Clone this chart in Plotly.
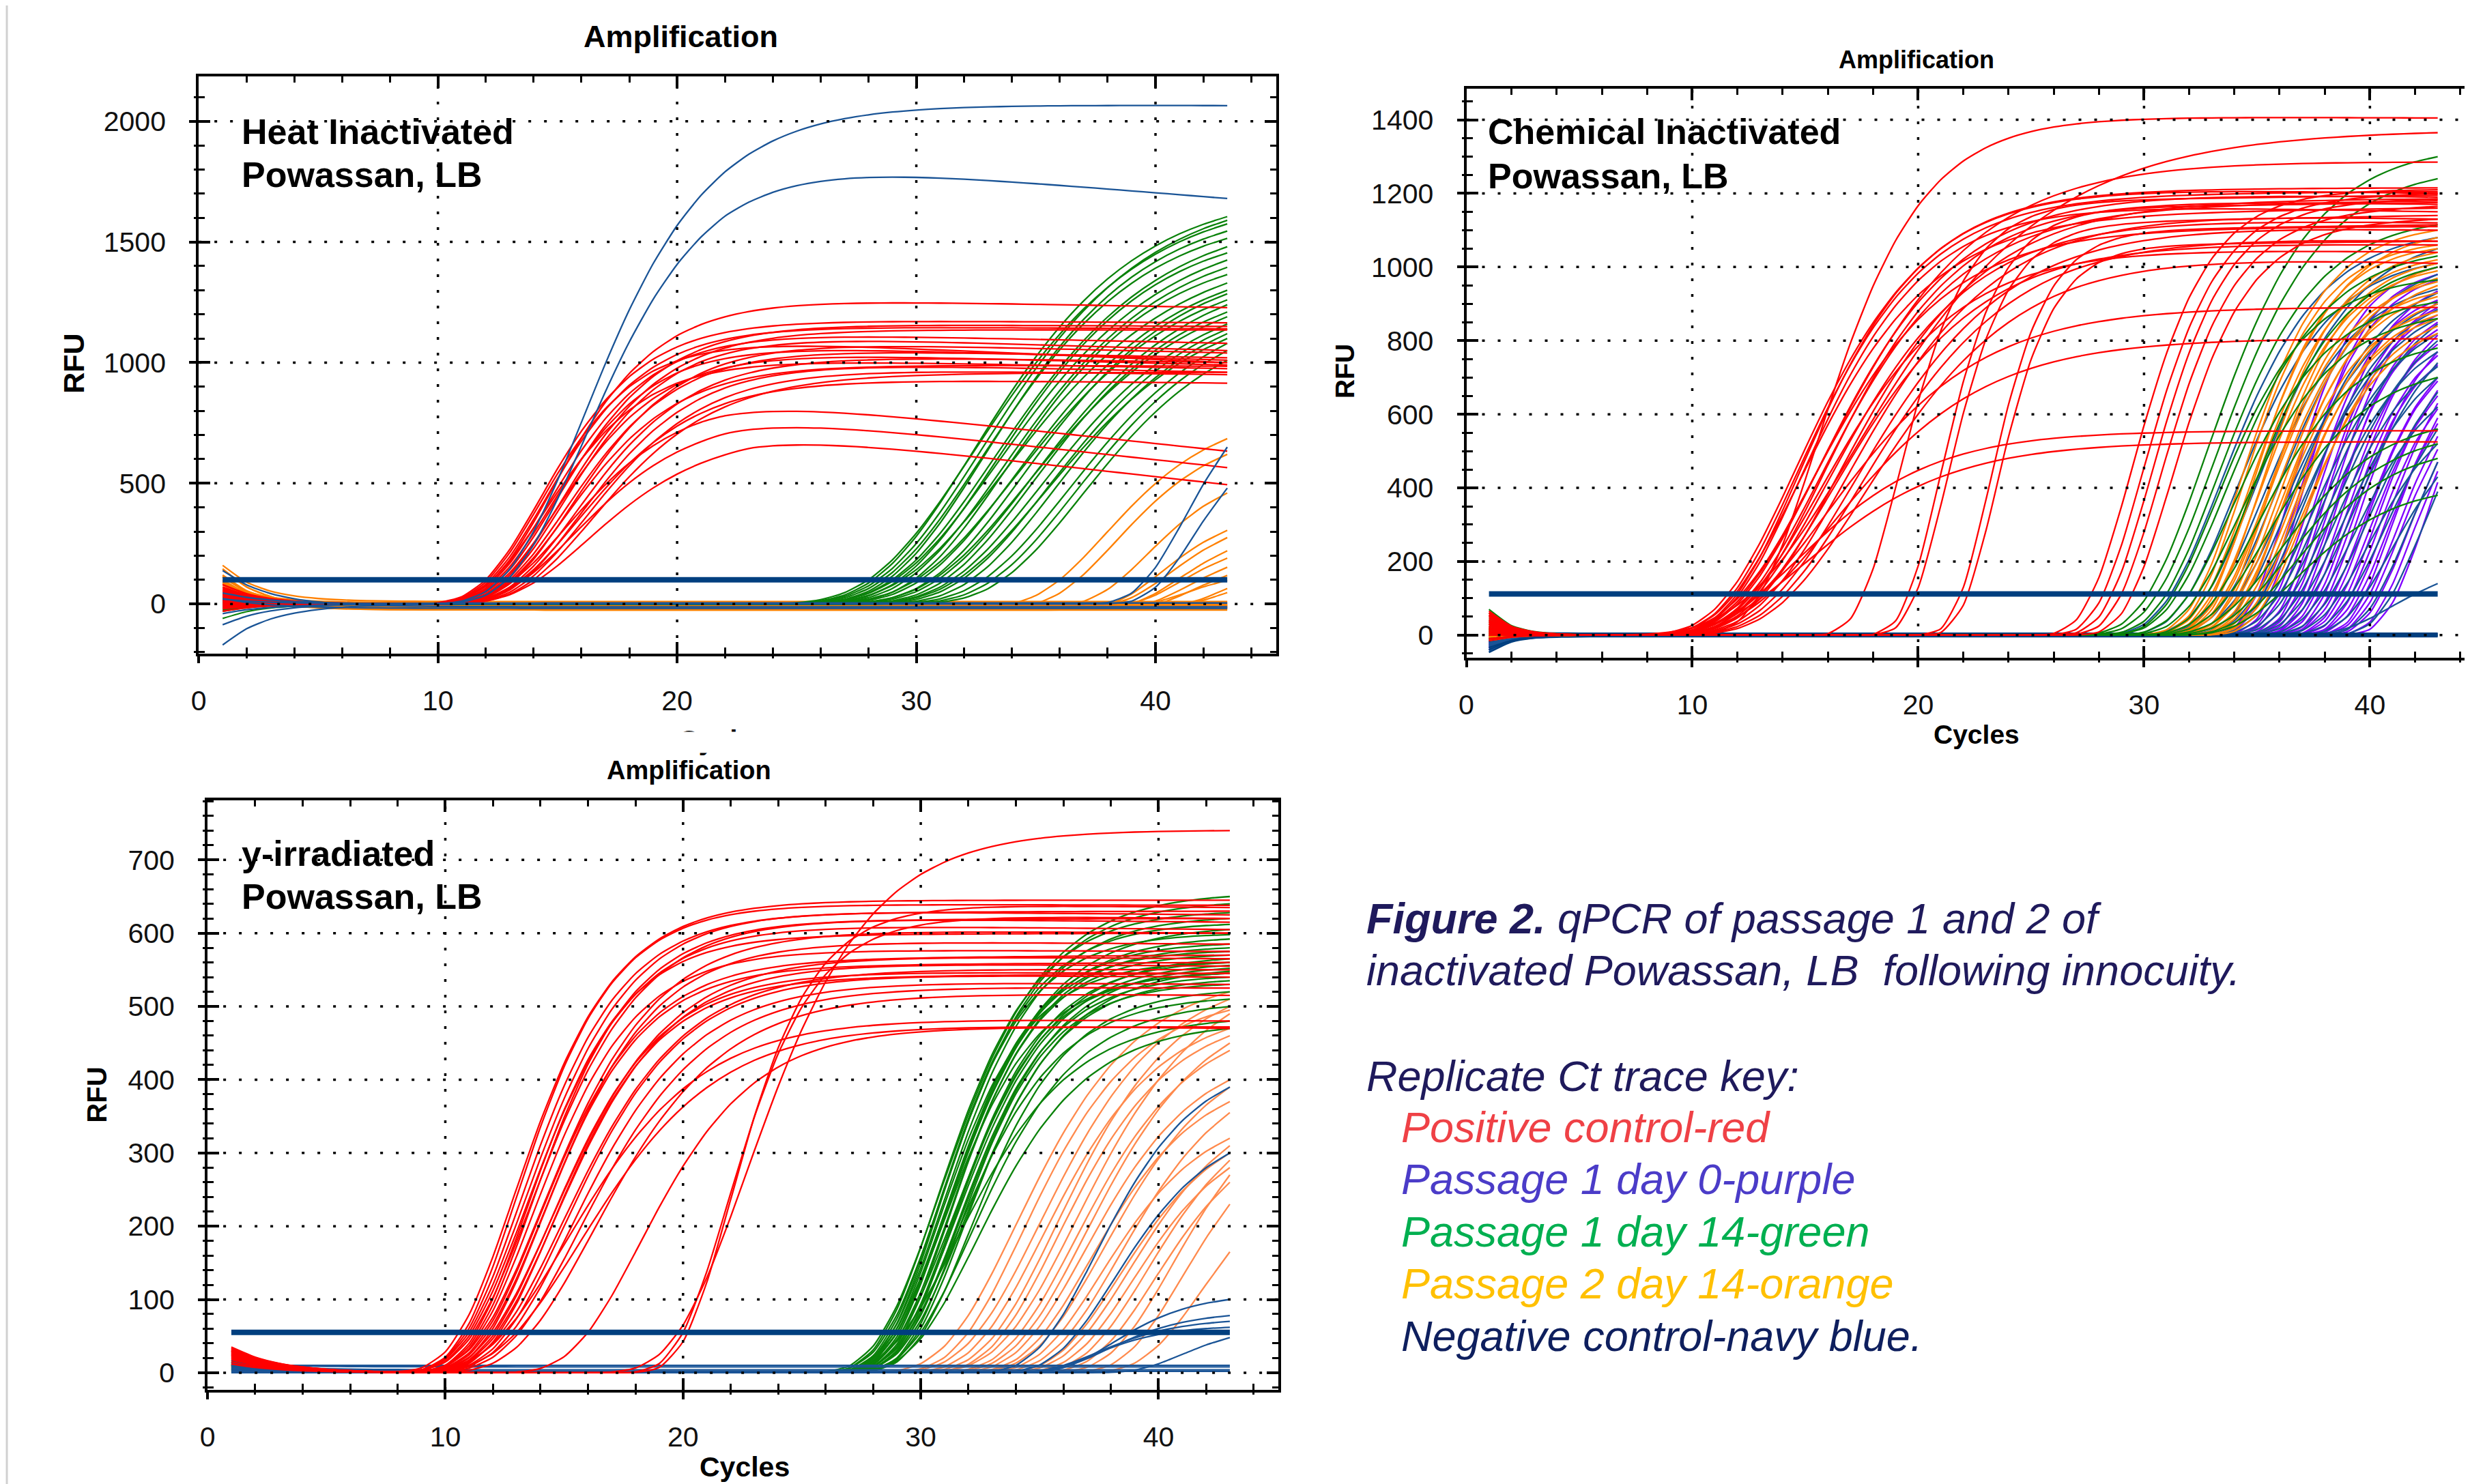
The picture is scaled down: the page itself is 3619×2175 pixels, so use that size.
import numpy as np
import plotly.graph_objects as go

W, H = 3619, 2175
CYCLES = list(range(1, 44))
THRESHOLDS = [100, 112, 55]

# ---------------- Panel 1 : Heat inactivated ----------------
p1_red_ct = [12.3, 12.0, 12.6, 12.2, 12.8, 12.4, 12.9, 12.1, 13.2, 12.5, 13.0, 12.7, 13.4, 12.3, 13.6, 13.1, 13.8, 14.0, 13.5, 13.2, 13.6, 14.2]
p1_red_peak = [1268, 1178, 1162, 1152, 1138, 1128, 1118, 1105, 1092, 1078, 1062, 1048, 1034, 1018, 1004, 993, 978, 955, 935, 860, 790, 715]
p1_red_end = [1228, 1165, 1150, 1140, 1135, 1080, 1050, 1000, 1040, 1010, 1020, 990, 1000, 975, 960, 985, 950, 960, 915, 633, 565, 494]
p1_red_k = [2.6, 2.5, 2.6, 2.5, 2.6, 2.5, 2.6, 2.4, 2.7, 2.5, 2.7, 2.6, 2.8, 2.5, 2.8, 2.7, 2.9, 3.0, 2.9, 2.8, 2.9, 3.0]
p1_red_start = [80, 60, 40, 20, 0, -20, 50, 30, 10, -10, 70, 45, 25, 5, -30, 55, 35, 15, -5, 65, 20, -15]

p1_blue_ct = [12.6, 12.9, 39.6, 40.3]
p1_blue_peak = [2072, 1850, None, None]
p1_blue_end = [2065, 1680, 650, 480]
p1_blue_k = [3.1, 3.0, 2.0, 1.8]
p1_blue_start = [-170, 45, -40, 20]
p1_blue_flat_offset = [-12, 4, -18]
p1_blue_flat_start = [150, -90, 40]

p1_green_ct = [28.2, 28.4, 28.0, 28.8, 28.6, 29.0, 29.3, 29.1, 29.6, 29.9, 29.4, 30.2, 30.6, 30.0, 30.9, 31.2, 30.7, 31.5, 31.9, 32.3, 31.7, 32.8, 33.2, 33.6]
p1_green_end = [1605, 1590, 1575, 1545, 1515, 1480, 1455, 1425, 1395, 1365, 1330, 1300, 1285, 1260, 1240, 1210, 1190, 1160, 1140, 1120, 1100, 1080, 1050, 1010]
p1_green_k = [4.0, 4.1, 4.2, 3.9, 4.0, 4.1, 3.9, 4.2, 4.0, 3.8, 4.3, 4.0, 3.9, 4.2, 4.0, 3.8, 4.1, 3.9, 3.8, 3.7, 4.0, 3.8, 3.7, 3.6]
p1_green_start = [-60, 10, 30, -20, 20, 0, 40, -10, 15, 5, -30, 25, 10, -5, 35, 0, 20, -15, 5, 30, -25, 10, 0, 15]

p1_orange_ct = [35.8, 36.5, 38.4, 39.5, 40.0, 40.6, 41.0, 41.5, 42.0, 42.6, 43.5, 44.5]
p1_orange_end = [700, 640, 470, 330, 290, 240, 200, 170, 140, 110, 80, 55]
p1_orange_k = [2.8, 2.6, 2.2, 2.0, 2.0, 1.9, 1.8, 1.8, 1.7, 1.7, 1.6, 1.6]
p1_orange_start = [160, 120, 90, 140, 70, 100, 60, 130, 80, 50, 110, 40]
p1_orange_offset = [-15, -20, -10, -25, -15, -20, -10, -18, -22, -12, -16, -8]
p1_orange_flat_offset = [-15, -10, -5, -20, 0, -8, -12, -18, 5, -3, -25, -6, 10, -14]
p1_orange_flat_start = [160, 120, 90, 140, 70, 100, 60, 130, 80, 50, 110, 40, 150, 20]

# ---------------- Panel 2 : Chemical inactivated ----------------
p2_red_ct = [13.0, 12.6, 12.2, 11.6, 12.0, 12.4, 11.8, 12.8, 13.2, 12.1, 12.6, 13.5, 11.9, 12.9, 13.8, 12.3, 14.1, 13.1, 12.7, 14.4, 13.0, 13.4, 13.0, 13.3,
             17.6, 19.6, 19.9, 21.9, 22.2, 27.7, 28.2, 28.6, 29.0, 29.5]
p2_red_peak = [1410, 1370, 1290, 1220, 1212, 1205, 1198, 1190, 1182, 1175, 1165, 1155, 1145, 1135, 1120, 1105, 1090, 1070, 1055, 1040, 895, 808, 556, 527,
               1180, 1160, 1120, 1100, 1060, 1210, 1190, 1180, 1150, 1120]
p2_red_end = [1405, 1365, 1285, 1200, 1215, 1190, 1205, 1170, 1185, 1150, 1180, 1130, 1160, 1120, 1100, 1110, 1070, 1060, 1040, 1010, 890, 805, 555, 525,
              1195, 1175, 1140, 1115, 1070, 1210, 1200, 1185, 1165, 1130]
p2_red_k = [2.7, 5.0, 4.0, 3.4, 3.2, 3.6, 3.3, 3.5, 3.8, 3.2, 3.6, 3.9, 3.4, 3.7, 4.0, 3.5, 4.0, 3.8, 3.6, 4.0, 4.0, 4.0, 3.5, 3.8,
            1.8, 1.6, 1.6, 1.5, 1.5, 2.0, 2.0, 2.0, 2.0, 2.0]
p2_red_start = [60, 40, 20, 0, -10, 50, 30, 10, 65, 45, 25, 5, -15, 55, 35, 15, 0, 60, 40, 20, 10, 30, 50, 0, 20, 40, 10, -10, 30, 55, 15, 35, 5, 25]

p2_green_ct = [30.2, 30.6, 31.0, 31.5, 31.3, 32.0, 32.4, 32.8, 33.3, 33.8, 34.5, 35.0, 35.5, 36.0]
p2_green_end = [1300, 1240, 1115, 1030, 965, 905, 860, 1000, 780, 700, 560, 520, 480, 380]
p2_green_k = [2.8, 2.8, 2.6, 2.6, 2.4, 2.5, 2.5, 2.4, 2.5, 2.6, 2.7, 2.7, 2.6, 2.6]
p2_green_start = [70, 50, 30, 10, -10, 40, 20, 60, 0, 25, 45, 15, 35, 5]

p2_orange_ct = [32.4, 32.6, 32.8, 33.0, 33.1, 33.3, 33.4, 33.6, 33.7, 33.9, 34.0, 34.2, 34.3, 34.5, 34.6, 34.8, 35.0, 35.2, 35.4, 35.6]
p2_orange_end = [1100, 1060, 1080, 1020, 1050, 990, 1040, 1000, 960, 1010, 930, 970, 950, 880, 920, 900, 860, 870, 820, 840]
p2_orange_k = [2.2, 2.1, 2.3, 2.2, 2.0, 2.2, 2.1, 2.3, 2.2, 2.0, 2.1, 2.2, 2.3, 2.1, 2.0, 2.2, 2.1, 2.0, 2.2, 2.1]
p2_orange_start = [10, -5, 0, 15, -10, 5, 20, -15, 0, 10, -5, 5, 15, -10, 0, 10, -5, 5, 0, -10]

p2_blue_ct = [31.2, 32.0, 32.8, 33.3, 33.8, 34.2, 34.6, 35.0, 35.3, 35.7, 36.0, 36.3, 36.6, 36.9, 37.2, 37.5, 37.9, 38.3, 38.7, 39.2, 39.8, 40.4, 41.0, 42.0]
p2_blue_end = [1080, 1010, 1050, 940, 980, 900, 930, 860, 885, 820, 845, 770, 800, 730, 700, 740, 620, 660, 520, 560, 430, 470, 390, 140]
p2_blue_k = [2.6, 2.5, 2.6, 2.4, 2.5, 2.6, 2.4, 2.5, 2.3, 2.4, 2.5, 2.3, 2.4, 2.2, 2.3, 2.4, 2.2, 2.3, 2.1, 2.2, 2.1, 2.0, 2.0, 2.2]
p2_blue_start = [-40, -20, -30, 0, -35, -10, -25, -45, -15, -5, -30, -20, -40, -10, -25, 0, -35, -15, -20, -30, -5, -25, -10, -40]
p2_navy_flat_offset = [0, 3, -4, 5, -2, 1]
p2_navy_flat_start = [-40, -20, -30, 10, -45, -10]

p2_purple_ct = [35.0, 35.3, 35.6, 35.9, 36.1, 36.4, 36.6, 36.8, 37.0, 37.2, 37.4, 37.6, 37.8, 38.0, 38.2, 38.4, 38.6, 38.8, 39.0, 39.2, 39.4, 39.6, 39.8, 40.0, 40.2, 40.5, 40.8, 41.2]
p2_purple_end = [1000, 965, 980, 910, 935, 890, 870, 905, 830, 850, 790, 815, 760, 735, 770, 700, 690, 650, 665, 615, 630, 575, 590, 540, 505, 470, 445, 415]
p2_purple_k = [1.8, 1.9, 1.7, 1.8, 1.9, 1.8, 1.7, 1.9, 1.8, 1.7, 1.8, 1.9, 1.8, 1.7, 1.8, 1.9, 1.7, 1.8, 1.8, 1.7, 1.9, 1.8, 1.7, 1.8, 1.7, 1.8, 1.7, 1.8]
p2_purple_start = [-30, -20, -40, -10, -25, -35, -15, -30, -20, -40, -10, -25, -35, -15, -30, -20, -40, -10, -25, -35, -15, -30, -20, -40, -10, -25, -35, -15]

# ---------------- Panel 3 : gamma-irradiated ----------------
p3_red_ct = [10.6, 10.8, 11.0, 10.9, 11.2, 11.4, 11.1, 11.6, 11.3, 11.8, 11.5, 12.0, 11.7, 12.2, 11.9, 12.4, 12.1, 12.6, 12.3, 12.8, 13.1, 13.6, 12.5, 13.0, 16.0, 19.8, 20.2, 20.0]
p3_red_peak = [645, 640, 632, 628, 622, 618, 612, 605, 598, 590, 578, 570, 565, 560, 556, 552, 548, 545, 540, 535, 528, 520, 485, 478, 472, 742, 640, 625]
p3_red_end = [645, 638, 625, 630, 615, 620, 605, 600, 600, 585, 575, 565, 570, 555, 560, 550, 545, 540, 545, 530, 525, 515, 480, 470, 472, 740, 635, 620]
p3_red_k = [2.5, 2.4, 2.6, 2.5, 2.7, 2.5, 2.6, 2.8, 2.4, 2.7, 2.5, 2.9, 2.6, 2.8, 2.5, 3.0, 2.7, 2.9, 2.6, 3.0, 3.1, 3.2, 3.3, 3.4, 2.8, 3.0, 2.0, 2.1]
p3_red_start = [30, 25, 35, 20, 28, 32, 22, 26, 34, 24, 30, 18, 27, 33, 21, 29, 25, 31, 23, 28, 20, 26, 30, 24, 22, 15, 12, 18]

p3_green_ct = [28.4, 28.5, 28.6, 28.7, 28.8, 28.8, 28.9, 29.0, 29.0, 29.1, 29.2, 29.2, 29.3, 29.4, 29.4, 29.5, 29.6, 29.6, 29.7, 29.8, 29.9, 30.0, 30.1, 30.2, 29.3, 29.0, 28.9, 29.5]
p3_green_end = [650, 628, 640, 612, 620, 598, 605, 585, 592, 575, 580, 565, 570, 556, 560, 545, 552, 540, 548, 530, 535, 500, 520, 470, 480, 545, 560, 510]
p3_green_k = [2.6, 2.4, 2.5, 2.3, 2.4, 2.2, 2.5, 2.3, 2.4, 2.2, 2.3, 2.5, 2.2, 2.4, 2.3, 2.2, 2.4, 2.3, 2.5, 2.2, 2.3, 2.6, 2.4, 2.7, 2.8, 2.3, 2.2, 2.5]
p3_green_start = [10, 5, 15, 0, 8, 12, 3, 18, 6, 10, 2, 14, 7, 11, 4, 16, 9, 1, 13, 5, 10, 8, 12, 3, 15, 6, 9, 11]

p3_orange_ct = [31.5, 32.0, 32.4, 32.8, 33.2, 33.5, 33.8, 34.2, 34.5, 34.8, 35.2, 35.5, 35.9, 36.3, 36.7, 37.0, 37.4, 37.8, 38.3, 38.8, 39.5, 40.5]
p3_orange_end = [520, 495, 510, 470, 500, 460, 490, 440, 450, 400, 370, 390, 320, 355, 300, 310, 280, 290, 260, 270, 230, 165]
p3_orange_k = [3.0, 2.8, 3.1, 2.9, 3.0, 2.8, 3.2, 2.9, 3.0, 2.8, 2.7, 2.9, 2.6, 2.8, 2.6, 2.7, 2.5, 2.6, 2.5, 2.6, 2.4, 2.5]
p3_orange_start = [12, 8, 15, 5, 10, 3, 14, 7, 11, 4, 9, 13, 6, 2, 10, 8, 12, 5, 7, 11, 3, 9]

p3_blue_ct = [35.5, 36.6, 38.8, 39.5, 39.8, 40.5, 44.0]
p3_blue_end = [390, 300, 100, 78, 70, 62, 48]
p3_blue_k = [2.5, 2.5, 2.0, 2.0, 2.0, 1.8, 1.8]
p3_blue_start = [5, 10, 0, 8, 3, 6, 2]
p3_blue_flat_offset = [4, 8, 2, 10]
p3_blue_flat_start = [10, 5, 15, 0]

# axis ticks
X_TICKS = [0, 10, 20, 30, 40]
P1_Y_TICKS = [0, 500, 1000, 1500, 2000]
P2_Y_TICKS = [0, 200, 400, 600, 800, 1000, 1200, 1400]
P3_Y_TICKS = [0, 100, 200, 300, 400, 500, 600, 700]

# ---------------- helpers ----------------
def amp_curve(ct, end, k, thr, peak=None, start=0.0, offset=0.0, tau=1.6):
    c = np.asarray(CYCLES, dtype=float)
    last = c[-1]
    if peak is None:
        a = np.exp(-(last - ct) / k)
        plateau = (end * thr ** (-a)) ** (1.0 / (1.0 - a))
    else:
        plateau = peak
    y = plateau * (thr / plateau) ** np.exp(-(c - ct) / k)
    if peak is not None:
        ca = ct + 3 * k
        w = np.clip((c - ca) / (last - ca), 0, 1)
        y = y + (end - y[-1]) * w * (y / plateau)
    return y + offset + start * np.exp(-(c - c[0]) / tau)


def flat_curve(offset, start, tau=1.6):
    c = np.asarray(CYCLES, dtype=float)
    return offset + start * np.exp(-(c - c[0]) / tau)


def group_xy(curves):
    xs, ys = [], []
    for y in curves:
        xs.extend(CYCLES)
        xs.append(None)
        ys.extend(np.round(y, 2).tolist())
        ys.append(None)
    return xs, ys


fig = go.Figure()


def add_group(curves, color, xa, ya, width=2.3):
    xs, ys = group_xy(curves)
    fig.add_trace(go.Scatter(x=xs, y=ys, mode="lines",
                             line=dict(color=color, width=width, shape="spline", smoothing=0.6),
                             xaxis=xa, yaxis=ya, hoverinfo="skip", showlegend=False))


def add_threshold(thr, xa, ya):
    fig.add_trace(go.Scatter(x=[CYCLES[0], CYCLES[-1]], y=[thr, thr], mode="lines",
                             line=dict(color="#003F7F", width=8), xaxis=xa, yaxis=ya,
                             hoverinfo="skip", showlegend=False))


RED = "#FF0000"
GREEN = "#0A820A"
ORANGE = "#FF8000"
BLUE = "#1A5496"
NAVY = "#003F7F"
PURPLE = "#8000FF"
SALMON = "#FF8A4D"

# Panel 1
T1 = THRESHOLDS[0]
add_group([amp_curve(ct, e, k, T1, start=s, offset=o, tau=1.6) for ct, e, k, s, o in
           zip(p1_orange_ct, p1_orange_end, p1_orange_k, p1_orange_start, p1_orange_offset)]
          + [flat_curve(o, s) for o, s in zip(p1_orange_flat_offset, p1_orange_flat_start)], ORANGE, "x", "y")
add_group([amp_curve(ct, e, k, T1, start=s) for ct, e, k, s in
           zip(p1_green_ct, p1_green_end, p1_green_k, p1_green_start)], GREEN, "x", "y")
add_group([amp_curve(ct, e, k, T1, peak=p, start=s) for ct, p, e, k, s in
           zip(p1_red_ct, p1_red_peak, p1_red_end, p1_red_k, p1_red_start)], RED, "x", "y")
add_group([amp_curve(ct, e, k, T1, peak=p, start=s, tau=2.0) for ct, p, e, k, s in
           zip(p1_blue_ct, p1_blue_peak, p1_blue_end, p1_blue_k, p1_blue_start)]
          + [flat_curve(o, s, tau=2.0) for o, s in zip(p1_blue_flat_offset, p1_blue_flat_start)], BLUE, "x", "y")
add_threshold(T1, "x", "y")

# Panel 2
T2 = THRESHOLDS[1]
add_group([amp_curve(ct, e, k, T2, start=s, tau=1.0) for ct, e, k, s in
           zip(p2_purple_ct, p2_purple_end, p2_purple_k, p2_purple_start)], PURPLE, "x2", "y2")
add_group([amp_curve(ct, e, k, T2, start=s, tau=1.0) for ct, e, k, s in
           zip(p2_blue_ct, p2_blue_end, p2_blue_k, p2_blue_start)], BLUE, "x2", "y2")
add_group([flat_curve(o, s, tau=1.0) for o, s in zip(p2_navy_flat_offset, p2_navy_flat_start)], NAVY, "x2", "y2", width=2.3)
add_group([amp_curve(ct, e, k, T2, start=s, tau=1.0) for ct, e, k, s in
           zip(p2_orange_ct, p2_orange_end, p2_orange_k, p2_orange_start)], ORANGE, "x2", "y2")
add_group([amp_curve(ct, e, k, T2, start=s, tau=1.0) for ct, e, k, s in
           zip(p2_green_ct, p2_green_end, p2_green_k, p2_green_start)], GREEN, "x2", "y2")
add_group([amp_curve(ct, e, k, T2, peak=p, start=s, tau=1.0) for ct, p, e, k, s in
           zip(p2_red_ct, p2_red_peak, p2_red_end, p2_red_k, p2_red_start)], RED, "x2", "y2")
add_threshold(T2, "x2", "y2")

# Panel 3
T3 = THRESHOLDS[2]
add_group([amp_curve(ct, e, k, T3, start=s, tau=2.0) for ct, e, k, s in
           zip(p3_orange_ct, p3_orange_end, p3_orange_k, p3_orange_start)], SALMON, "x3", "y3")
add_group([amp_curve(ct, e, k, T3, start=s, tau=2.0) for ct, e, k, s in
           zip(p3_green_ct, p3_green_end, p3_green_k, p3_green_start)], GREEN, "x3", "y3")
add_group([amp_curve(ct, e, k, T3, start=s, tau=2.0) for ct, e, k, s in
           zip(p3_blue_ct, p3_blue_end, p3_blue_k, p3_blue_start)]
          + [flat_curve(o, s, tau=2.0) for o, s in zip(p3_blue_flat_offset, p3_blue_flat_start)], BLUE, "x3", "y3")
add_group([amp_curve(ct, e, k, T3, peak=p, start=s, tau=2.0) for ct, p, e, k, s in
           zip(p3_red_ct, p3_red_peak, p3_red_end, p3_red_k, p3_red_start)], RED, "x3", "y3")
add_threshold(T3, "x3", "y3")

# dummy traces for overlay (outside-tick) axes
for i in (4, 5, 6):
    fig.add_trace(go.Scatter(x=[None], y=[None], xaxis=f"x{i}", yaxis=f"y{i}",
                             showlegend=False, hoverinfo="skip"))

# ---------------- layout ----------------
# the page renders the figure offset by a few pixels; compensate
DX, DY = 16, 10


def px_x(p):
    return (p - DX) / W


def px_y(p):
    return 1 - (p - DY) / H


panels = [
    dict(xd=[289, 1873], yd=[960, 114], xr=[0, 45.06], yr=[-206, 2186], yt=P1_Y_TICKS, ymin=100, mirror_y=True),
    dict(xd=[2152, 3619], yd=[966, 132], xr=[0, 44.19], yr=[-61.5, 1484.5], yt=P2_Y_TICKS, ymin=50, mirror_y=False),
    dict(xd=[302, 1876], yd=[2039, 1175], xr=[0, 45.05], yr=[-23.4, 781.3], yt=P3_Y_TICKS, ymin=20, mirror_y=True),
]

FONT = "Liberation Sans, Arial, sans-serif"
layout = dict(width=W, height=H, autosize=False, margin=dict(l=0, r=0, t=0, b=0),
              paper_bgcolor="white", plot_bgcolor="rgba(0,0,0,0)", showlegend=False,
              font=dict(family=FONT, color="black"))

GRID = dict(color="black", width=3.5, dash="4px,19px")
shapes = []
for i, p in enumerate(panels, start=1):
    sx = "" if i == 1 else str(i)
    xdom = [px_x(p["xd"][0]), min(1.0, px_x(p["xd"][1]))]
    ydom = [px_y(p["yd"][0]), px_y(p["yd"][1])]
    common = dict(showline=True, linewidth=4, linecolor="black", ticks="inside", ticklen=17, tickwidth=4,
                  tickcolor="black", showgrid=False, zeroline=False,
                  tickfont=dict(size=41, family=FONT, color="#111111"))
    layout[f"xaxis{sx}"] = dict(common, domain=xdom, range=p["xr"], anchor=f"y{sx}",
                                tickmode="array", tickvals=X_TICKS,
                                mirror="allticks", ticklabelstandoff=30,
                                minor=dict(dtick=2, tick0=0, ticks="inside", ticklen=9, tickwidth=3, tickcolor="black", showgrid=False))
    layout[f"yaxis{sx}"] = dict(common, domain=ydom, range=p["yr"], anchor=f"x{sx}",
                                tickmode="array", tickvals=p["yt"],
                                mirror="allticks" if p["mirror_y"] else False, ticklabelstandoff=36,
                                minor=dict(dtick=p["ymin"], tick0=0, ticks="inside", ticklen=9, tickwidth=3, tickcolor="black", showgrid=False))
    j = i + 3
    over = dict(showline=False, showgrid=False, zeroline=False, showticklabels=False, ticks="outside",
                ticklen=13, tickwidth=4, tickcolor="black")
    layout[f"xaxis{j}"] = dict(over, domain=xdom, range=p["xr"], anchor=f"y{sx}", overlaying=f"x{sx}",
                               tickmode="array", tickvals=X_TICKS,
                               minor=dict(dtick=2, tick0=0, ticks="outside", ticklen=6, tickwidth=3, tickcolor="black", showgrid=False))
    layout[f"yaxis{j}"] = dict(over, domain=ydom, range=p["yr"], anchor=f"x{sx}", overlaying=f"y{sx}",
                               tickmode="array", tickvals=p["yt"],
                               minor=dict(dtick=p["ymin"], tick0=0, ticks="outside", ticklen=6, tickwidth=3, tickcolor="black", showgrid=False))
    # dotted grid drawn above the traces, like the instrument software
    for xv in X_TICKS[1:]:
        shapes.append(dict(type="line", xref=f"x{sx}", yref=f"y{sx} domain", x0=xv, x1=xv, y0=0, y1=1,
                           line=GRID, layer="above"))
    for yv in p["yt"]:
        shapes.append(dict(type="line", xref=f"x{sx} domain", yref=f"y{sx}", x0=0, x1=1, y0=yv, y1=yv,
                           line=GRID, layer="above"))

# thin grey page border at left
shapes.append(dict(type="line", xref="paper", yref="paper", x0=px_x(7), x1=px_x(7), y0=0, y1=1,
                   line=dict(color="#D0D0D0", width=3)))
layout["shapes"] = shapes
fig.update_layout(**layout)


def ann(text, x, y, size, color="black", xanchor="center", angle=0, **kw):
    fig.add_annotation(text=text, x=px_x(x), y=px_y(y), xref="paper", yref="paper", showarrow=False,
                       xanchor=xanchor, yanchor="middle", textangle=angle,
                       font=dict(size=size, color=color, family=FONT), **kw)


# titles
ann("<b>Amplification</b>", 997, 55, 45)
ann("<b>Amplification</b>", 2814, 89, 36)
ann("<b>Amplification</b>", 1010, 1131, 38)
# axis titles
ann("<b>RFU</b>", 105, 535, 43, angle=-90)
ann("<b>RFU</b>", 1973, 546, 39, angle=-90)
ann("<b>RFU</b>", 139, 1607, 40, angle=-90)
ann("<b>Cycles</b>", 1060, 1087, 41)
fig.add_annotation(text=" ", x=px_x(1060), y=px_y(1074), xref="paper", yref="paper", showarrow=False,
                   xanchor="center", yanchor="top", width=220, height=28, bgcolor="white")
ann("<b>Cycles</b>", 2902, 1078, 39)
ann("<b>Cycles</b>", 1091, 2152, 41)
# panel labels
ann("<b>Heat Inactivated</b>", 350, 195, 52, xanchor="left")
ann("<b>Powassan, LB</b>", 350, 258, 52, xanchor="left")
ann("<b>Chemical Inactivated</b>", 2182, 195, 52, xanchor="left")
ann("<b>Powassan, LB</b>", 2182, 260, 52, xanchor="left")
ann("<b>y-irradiated</b>", 350, 1253, 52, xanchor="left")
ann("<b>Powassan, LB</b>", 350, 1316, 52, xanchor="left")

# caption
CAP = "#1F1A5C"
ann("<b><i>Figure 2.</i></b><i> qPCR of passage 1 and 2 of</i>", 2003, 1348, 63, CAP, xanchor="left")
ann("<i>inactivated Powassan, LB&nbsp; following innocuity.</i>", 2003, 1424, 63, CAP, xanchor="left")
ann("<i>Replicate Ct trace key:</i>", 2003, 1579, 63, CAP, xanchor="left")
key_text = ["Positive control-red", "Passage 1 day 0-purple", "Passage 1 day 14-green",
            "Passage 2 day 14-orange", "Negative control-navy blue."]
key_color = ["#EF4146", "#4B3CC8", "#00AF50", "#FFC000", "#0E1F5E"]
key_y = [1654, 1730, 1807, 1883, 1960]
for t, c, yy in zip(key_text, key_color, key_y):
    ann(f"<i>{t}</i>", 2054, yy, 63, c, xanchor="left")

fig.write_html("out.html")
